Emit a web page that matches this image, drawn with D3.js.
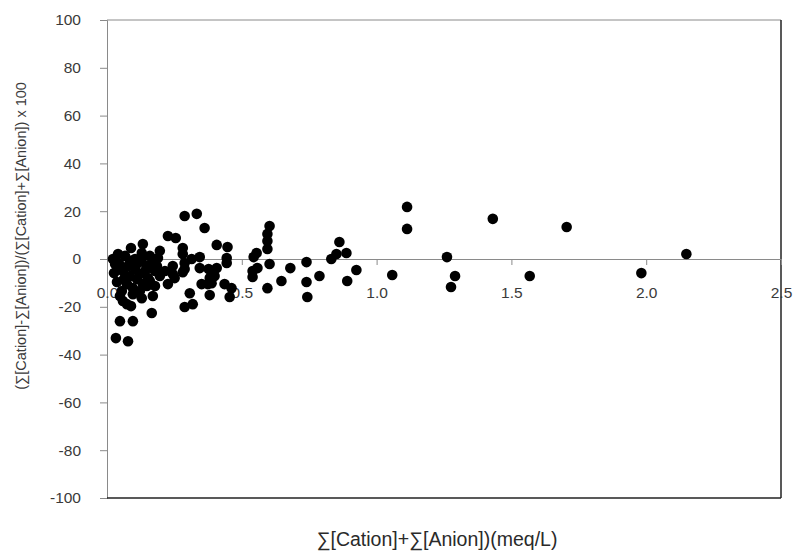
<!DOCTYPE html>
<html>
<head>
<meta charset="utf-8">
<script src="https://cdn.jsdelivr.net/npm/d3@7"></script>
<style>
  body { margin: 0; background: #fff; }
  svg { display: block; font-family: "Liberation Sans", Arial, sans-serif; }
</style>
</head>
<body>
<svg id="chart" width="796" height="555"></svg>
<script>
// sum of ions (meq/L) vs ion balance error (%)
const sumIons = [
  2.149, 1.982, 1.705, 1.431, 1.568, 1.291, 1.276, 1.261, 1.113, 1.113,
  1.058, 0.925, 0.891, 0.888, 0.862, 0.851, 0.832, 0.788, 0.740, 0.740,
  0.743, 0.680, 0.647, 0.603, 0.595, 0.595, 0.595, 0.603, 0.595, 0.555,
  0.544, 0.558, 0.540, 0.540,
  0.288, 0.333, 0.362, 0.226, 0.255, 0.407, 0.447, 0.444, 0.444, 0.436,
  0.462, 0.455, 0.407, 0.399, 0.388, 0.374, 0.381, 0.351, 0.344, 0.344,
  0.314, 0.281, 0.281, 0.288, 0.288, 0.281, 0.307, 0.318, 0.288, 0.244,
  0.244, 0.251, 0.226, 0.196, 0.189, 0.185, 0.178, 0.166, 0.166, 0.170,
  0.377, 0.381,
  0.133, 0.129, 0.129, 0.129, 0.148, 0.152, 0.148, 0.089, 0.089, 0.078,
  0.096, 0.048, 0.033, 0.041, 0.037, 0.037, 0.055, 0.059, 0.074, 0.059,
  0.085, 0.104, 0.111, 0.096, 0.074, 0.133, 0.122, 0.085, 0.048,
  0.022, 0.030, 0.026, 0.044, 0.067, 0.078, 0.063, 0.104, 0.115, 0.141,
  0.159, 0.159, 0.122, 0.096, 0.196, 0.215, 0.178
];
const balance = [
  2.1, -5.9, 13.4, 16.8, -7.1, -7.1, -11.7, 0.8, 21.8, 12.6,
  -6.7, -4.6, -9.2, 2.5, 7.1, 2.1, 0.0, -7.1, -1.3, -9.6,
  -15.9, -3.8, -9.2, 13.8, 10.5, 7.5, 4.2, -2.1, -12.2, 2.5,
  0.8, -3.8, -5.0, -7.5,
  18.0, 18.9, 13.0, 9.6, 8.8, 5.9, 5.0, 0.4, -1.7, -10.5,
  -12.2, -15.9, -3.8, -7.1, -10.1, -10.5, -15.1, -10.5, -3.8, 0.8,
  0.0, 4.6, 2.1, -1.7, -4.2, -5.5, -14.3, -18.9, -20.1, -2.9,
  -6.3, -8.0, -10.5, 3.4, 0.4, -2.9, -5.0, -1.7, -22.6, -15.5,
  -4.2, -8.0,
  6.3, 2.5, 0.0, -16.4, -2.9, -8.0, -11.3, 4.6, -19.7, -34.4,
  -26.0, -26.0, -33.1, 2.1, -2.9, -9.6, -13.4, -17.6, -18.9, -5.0,
  -0.8, -4.2, -8.4, -12.2, -10.5, -10.5, -6.3, -7.1, -15.5,
  0.0, -2.1, -5.9, -1.7, 1.3, -2.9, -8.4, 0.0, -1.7, -5.0,
  1.3, -9.2, -13.4, -14.7, -7.1, -5.0, -11.3
];
const xTicks = [0, 0.5, 1.0, 1.5, 2.0, 2.5];
const yTicks = [-100, -80, -60, -40, -20, 0, 20, 40, 60, 80, 100];
const xTitle = "\u2211[Cation]+\u2211[Anion])(meq/L)";
const yTitle = "(\u2211[Cation]-\u2211[Anion])/(\u2211[Cation]+\u2211[Anion]) x 100";

const svg = d3.select("#chart");
const plotLeft = 107, plotRight = 781, plotTop = 20, plotBottom = 498;

const x = d3.scaleLinear().domain([0, 2.5]).range([plotLeft, plotRight]);
const y = d3.scaleLinear().domain([-100, 100]).range([plotBottom, plotTop]);

// y axis on the left (plain hyphen for negatives, like the original)
const yAxis = svg.append("g")
  .attr("transform", `translate(${plotLeft},0)`)
  .call(d3.axisLeft(y).tickValues(yTicks).tickSize(7).tickPadding(19)
    .tickFormat(d => String(d)));
yAxis.select(".domain").attr("stroke", "#8a8a8a");
yAxis.selectAll(".tick line").attr("stroke", "#8a8a8a");
yAxis.selectAll("text").attr("font-size", 15.5).attr("fill", "#3a3a3a")
  .attr("font-family", "Liberation Sans, Arial, sans-serif");

// plot area frame: top light, right and bottom dark
svg.append("line").attr("x1", plotLeft).attr("x2", plotRight)
  .attr("y1", plotTop).attr("y2", plotTop).attr("stroke", "#8a8a8a");
svg.append("line").attr("x1", plotRight).attr("x2", plotRight)
  .attr("y1", plotTop).attr("y2", plotBottom)
  .attr("stroke", "#222").attr("stroke-width", 1.5);
svg.append("line").attr("x1", plotLeft).attr("x2", plotRight)
  .attr("y1", plotBottom).attr("y2", plotBottom)
  .attr("stroke", "#222").attr("stroke-width", 1.5);

// x axis crossing at zero
const xAxis = svg.append("g")
  .attr("transform", `translate(0,${y(0)})`)
  .call(d3.axisBottom(x).tickValues(xTicks).tickSize(6).tickPadding(22)
    .tickFormat(d3.format(".1f")));
xAxis.select(".domain").attr("stroke", "#8a8a8a");
xAxis.selectAll(".tick line").attr("stroke", "#8a8a8a");
xAxis.selectAll("text").attr("font-size", 15.5).attr("fill", "#3a3a3a")
  .attr("font-family", "Liberation Sans, Arial, sans-serif");

// points
svg.append("g").selectAll("circle")
  .data(sumIons.map((v, i) => [v, balance[i]]))
  .join("circle")
  .attr("cx", d => x(d[0]))
  .attr("cy", d => y(d[1]))
  .attr("r", 5.3)
  .attr("fill", "#000");

// titles
svg.append("text")
  .attr("transform", "translate(26,236) rotate(-90)")
  .attr("text-anchor", "middle")
  .attr("font-size", 14.5)
  .attr("fill", "#3a3a3a")
  .text(yTitle);

svg.append("text")
  .attr("x", 437).attr("y", 546)
  .attr("text-anchor", "middle")
  .attr("font-size", 19.5)
  .attr("fill", "#2a2a2a")
  .text(xTitle);
</script>
</body>
</html>
